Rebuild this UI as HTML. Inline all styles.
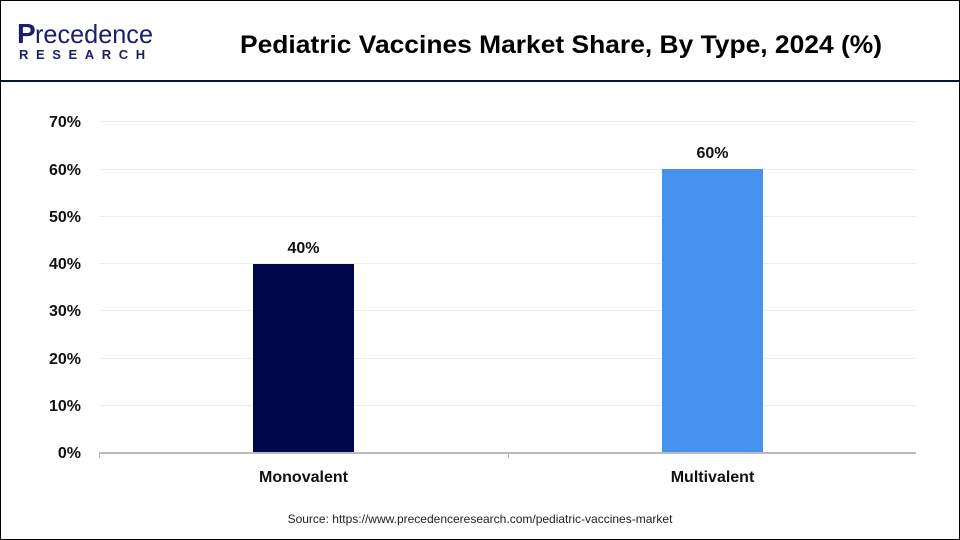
<!DOCTYPE html>
<html><head><meta charset="utf-8"><style>
html,body{margin:0;padding:0;background:#fff;}
body{width:960px;height:540px;position:relative;overflow:hidden;font-family:"Liberation Sans",sans-serif;}
.frame{position:absolute;left:0;top:0;width:958px;height:538px;border:1px solid #000;}
</style></head><body>
<div class="frame"></div>
<svg width="960" height="540" style="position:absolute;left:0;top:0" font-family="Liberation Sans, sans-serif">
<!-- logo -->
<text x="17" y="43" font-size="28" fill="#1a1f6b" font-weight="bold">P</text>
<text x="35" y="43" font-size="26" fill="#1a1f6b" textLength="118" lengthAdjust="spacingAndGlyphs">recedence</text>
<text x="19" y="59" font-size="13" fill="#1a1f6b" font-weight="bold" letter-spacing="7.6">RESEARCH</text>
<text x="561" y="53" text-anchor="middle" font-size="25" font-weight="bold" fill="#000" textLength="642" lengthAdjust="spacingAndGlyphs">Pediatric Vaccines Market Share, By Type, 2024 (%)</text>
<rect x="1" y="80" width="958" height="2" fill="#0b1240"/>
<!-- grid -->
<g stroke="#ececec" stroke-width="1">
<line x1="99" x2="916" y1="121.5" y2="121.5"/>
<line x1="99" x2="916" y1="169.5" y2="169.5"/>
<line x1="99" x2="916" y1="216.5" y2="216.5"/>
<line x1="99" x2="916" y1="263.5" y2="263.5"/>
<line x1="99" x2="916" y1="310.5" y2="310.5"/>
<line x1="99" x2="916" y1="358.5" y2="358.5"/>
<line x1="99" x2="916" y1="405.5" y2="405.5"/>
</g>
<g font-size="16" font-weight="bold" fill="#111" text-anchor="end">
<text x="81" y="127">70%</text>
<text x="81" y="175">60%</text>
<text x="81" y="222">50%</text>
<text x="81" y="269">40%</text>
<text x="81" y="316">30%</text>
<text x="81" y="364">20%</text>
<text x="81" y="411">10%</text>
<text x="81" y="458">0%</text>
</g>
<rect x="253" y="264" width="101" height="188" fill="#00064a"/>
<rect x="662" y="169" width="101" height="283" fill="#4592ee"/>
<line x1="99" x2="916" y1="453" y2="453" stroke="#bbb" stroke-width="2"/>
<line x1="99.5" x2="99.5" y1="453" y2="458" stroke="#bbb"/>
<line x1="508.5" x2="508.5" y1="453" y2="458" stroke="#bbb"/>
<g font-size="16" font-weight="bold" fill="#111" text-anchor="middle">
<text x="303.5" y="253">40%</text>
<text x="712.5" y="158">60%</text>
<text x="303.5" y="482">Monovalent</text>
<text x="712.5" y="482">Multivalent</text>
</g>
<text x="480" y="523" text-anchor="middle" font-size="12" fill="#222">Source: https://www.precedenceresearch.com/pediatric-vaccines-market</text>
</svg>
</body></html>
